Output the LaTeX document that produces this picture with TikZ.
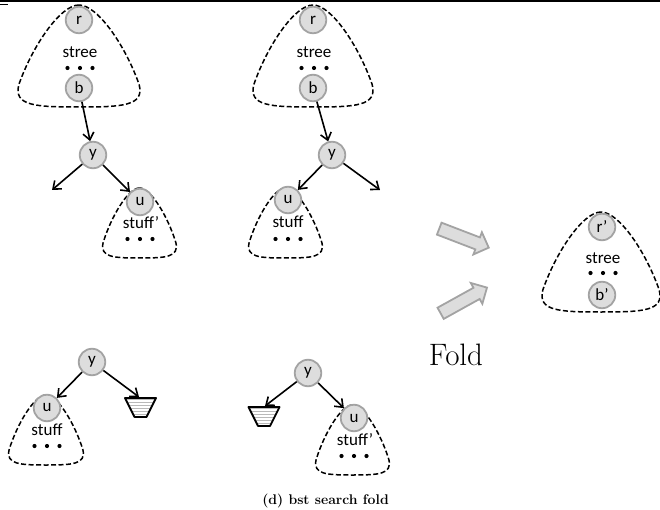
\documentclass[tikz,border=0pt]{standalone}
\usepackage{fontspec}
\newfontfamily\calfont{Carlito}
\usetikzlibrary{arrows.meta,shapes.arrows}
\definecolor{nodefill}{HTML}{DDDDDD}
\definecolor{nodeline}{HTML}{A3A3A3}
\tikzset{
  tn/.style={circle, draw=nodeline, line width=1.8pt, fill=nodefill, minimum size=26.5pt, inner sep=0pt, font=\calfont\fontsize{17}{17}\selectfont},
  lbl/.style={font=\calfont\fontsize{17}{17}\selectfont, inner sep=0pt},
  blobline/.style={draw=black, line width=1.5pt, dash pattern=on 5pt off 2.5pt},
  edge/.style={line width=1.6pt, -{Straight Barb[length=7pt,width=11pt,line width=1.6pt]}},
  bigarrow/.style={single arrow, draw=nodeline, fill=nodefill, line width=1.8pt, inner sep=5.5pt, single arrow head extend=5.5pt, minimum height=53pt, single arrow head indent=0pt}
}
\newcommand\blobshape[4]{% cx, top, halfwidth, height
  \begin{scope}[shift={(#1,#2)}, xscale=#3, yscale=#4]
  \draw[blobline] (0,0) .. controls (-0.3,0) and (-0.75,0.4) .. (-0.97,0.78)
     .. controls (-1.06,0.99) and (-0.7,1) .. (0,1)
     .. controls (0.7,1) and (1.06,0.99) .. (0.97,0.78)
     .. controls (0.75,0.4) and (0.3,0) .. (0,0) -- cycle;
  \end{scope}}
\newcommand\tdots[2]{%
  \fill (#1-12.5,#2) circle (2.1) (#1,#2) circle (2.1) (#1+12.5,#2) circle (2.1);}
\newcommand\stripetri[2]{% cx, top
  \begin{scope}
  \clip (#1-15.5,#2) -- (#1+15.5,#2) -- (#1+6,#2+19) -- (#1-6,#2+19) -- cycle;
  \fill[gray!55] (#1-16,#2-1) rectangle (#1+16,#2+20);
  \foreach \k in {1,...,6} {\draw[white, line width=1.3pt] (#1-16,#2+3*\k) -- (#1+16,#2+3*\k);}
  \end{scope}
  \draw[line width=1.8pt, line join=round] (#1-15.5,#2) -- (#1+15.5,#2) -- (#1+6,#2+19) -- (#1-6,#2+19) -- cycle;}
\begin{document}
\begin{tikzpicture}[x=1pt,y=-1pt]
\useasboundingbox (0,0) rectangle (660,510);
% top rule
\draw[line width=1.5pt] (0,1) -- (660,1);
\draw[line width=1pt] (0,5) -- (8,5);

% ---------- tree 1 ----------
\blobshape{79}{5}{62}{102}
\blobshape{139.5}{188}{37.5}{70}
\node[tn] (r1) at (79,20) {r};
\node[lbl] (s1) at (80,52) {stree};
\tdots{80}{68}
\node[tn] (b1) at (79,88) {b};
\node[tn] (y1) at (93,155) {y};
\coordinate (l1) at (52,190);
\node[tn] (u1) at (140,202) {u};
\node[lbl] (t1) at (141,223) {stuff’};
\tdots{140}{239}
\draw[edge] (b1) -- (y1);
\draw[edge] (y1) -- (l1);
\draw[edge] (y1) -- (u1);

% ---------- tree 2 ----------
\blobshape{313}{5}{61}{102}
\blobshape{285.5}{188}{37.5}{70}
\node[tn] (r2) at (313,20) {r};
\node[lbl] (s2) at (314,52) {stree};
\tdots{314}{68}
\node[tn] (b2) at (313,88) {b};
\node[tn] (y2) at (332,155) {y};
\coordinate (l2) at (380,190);
\node[tn] (u2) at (288,200) {u};
\node[lbl] (t2) at (288,222) {stuff};
\tdots{288}{239}
\draw[edge] (b2) -- (y2);
\draw[edge] (y2) -- (l2);
\draw[edge] (y2) -- (u2);

% ---------- fold arrows ----------
\node[bigarrow, rotate=-21] (fa1) at (461,237) {};
\node[bigarrow, rotate=29] (fa2) at (461,302) {};
\node[inner sep=0pt] (fold) at (456,355) {\fontsize{31}{34}\selectfont Fold};

% ---------- result tree ----------
\blobshape{601}{212}{60}{100}
\node[tn] (r3) at (602,227) {r’};
\node[lbl] (s3) at (603,258) {stree};
\tdots{603}{273}
\node[tn] (b3) at (602,295) {b’};

% ---------- bottom left ----------
\blobshape{46}{395}{38}{70}
\node[tn] (y4) at (92,362) {y};
\node[tn] (u4) at (47,408) {u};
\node[lbl] (t4) at (47,430) {stuff};
\tdots{47}{446}
\stripetri{140.5}{398}
\coordinate (e4) at (139,397);
\draw[edge] (y4) -- (u4);
\draw[edge] (y4) -- (e4);

% ---------- bottom middle ----------
\blobshape{352.5}{405}{37.5}{70}
\node[tn] (y5) at (308,373) {y};
\node[tn] (u5) at (354,418) {u};
\node[lbl] (t5) at (355,440) {stuff’};
\tdots{354}{456}
\stripetri{264}{407}
\coordinate (e5) at (265,406);
\draw[edge] (y5) -- (u5);
\draw[edge] (y5) -- (e5);

% caption
\node[inner sep=0pt] (cap) at (325.5,501) {\bfseries\fontsize{14}{16}\selectfont (d) bst search fold};
\end{tikzpicture}
\end{document}
